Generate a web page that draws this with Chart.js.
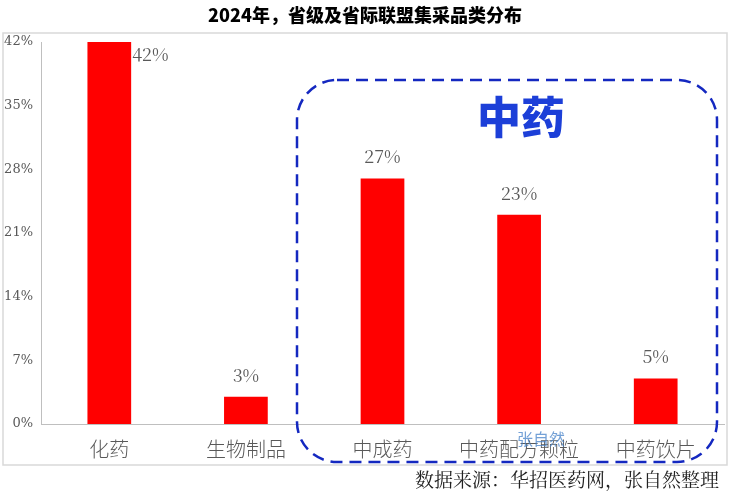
<!DOCTYPE html>
<html><head><meta charset="utf-8">
<script src="https://cdn.jsdelivr.net/npm/chart.js@4"></script>
<style>html,body{margin:0;padding:0;background:#fff}#w{width:734px;height:496px}</style>
</head><body><div id="w"><canvas id="c"></canvas></div>
<script>
const categories = ['化药','生物制品','中成药','中药配方颗粒','中药饮片'];
const shares = [42,3,27,23,5];
const yTicks = [0,7,14,21,28,35,42];

const deco = {
  id:'deco',
  afterDraw(ch){
    const c = ch.ctx;
    c.save();
    c.strokeStyle='#d9d9d9'; c.lineWidth=1.5; c.strokeRect(3,33,724,432);
    c.fillStyle='#000'; c.font='900 18px "Noto Sans CJK SC"'; c.textAlign='center'; c.textBaseline='middle';
    c.fillText('2024年，省级及省际联盟集采品类分布',365,15);
    c.fillStyle='#595959'; c.font='18px "Noto Serif CJK SC","DejaVu Serif","Liberation Serif",serif';
    const meta = ch.getDatasetMeta(0);
    shares.forEach((v,i)=>{
      const b = meta.data[i];
      if(i===0){ c.textAlign='left'; c.fillText(v+'%', b.x+b.width/2+1, b.y+12); }
      else { c.textAlign='center'; c.fillText(v+'%', b.x, b.y-22); }
    });
    c.strokeStyle='#1428c0'; c.lineWidth=2.5; c.setLineDash([12,7]);
    c.beginPath(); c.roundRect(297,80,420,382,40); c.stroke(); c.setLineDash([]);
    c.fillStyle='#1c3fd8'; c.font='900 44px "Noto Sans CJK SC"'; c.textAlign='center';
    c.fillText('中药',521,117);
    c.fillStyle='rgba(70,130,200,0.75)'; c.font='16px "Noto Sans CJK SC"';
    c.fillText('张自然',541,439);
    c.fillStyle='#222'; c.font='19px "Noto Serif CJK SC","Noto Sans CJK SC",serif'; c.textAlign='right';
    c.fillText('数据来源：华招医药网，张自然整理',719,480);
    c.restore();
  }
};

new Chart(document.getElementById('c'),{
  type:'bar',
  data:{labels:categories,datasets:[{data:shares,backgroundColor:'#ff0000',barPercentage:0.32,categoryPercentage:1}]},
  options:{
    responsive:true,maintainAspectRatio:false,animation:false,
    layout:{padding:{top:42,left:0,right:10,bottom:0}},
    plugins:{legend:{display:false},tooltip:{enabled:false}},
    scales:{
      x:{grid:{display:false,drawTicks:false},border:{color:'#bfbfbf'},
         ticks:{color:'#595959',padding:13,font:{size:20,weight:'300',family:'"Noto Sans CJK SC"'}},
         afterFit(s){s.height=72;}},
      y:{min:0,max:42,afterBuildTicks(s){s.ticks=yTicks.map(v=>({value:v}));},
         grid:{display:false,drawTicks:true,tickLength:5,tickColor:'#bfbfbf'},border:{color:'#bfbfbf'},
         ticks:{color:'#595959',padding:3,font:{size:13,family:'"DejaVu Serif",serif'},callback:v=>v+'%'},
         afterFit(s){s.width=41;}}
    }
  },
  plugins:[deco]
});
</script></body></html>
